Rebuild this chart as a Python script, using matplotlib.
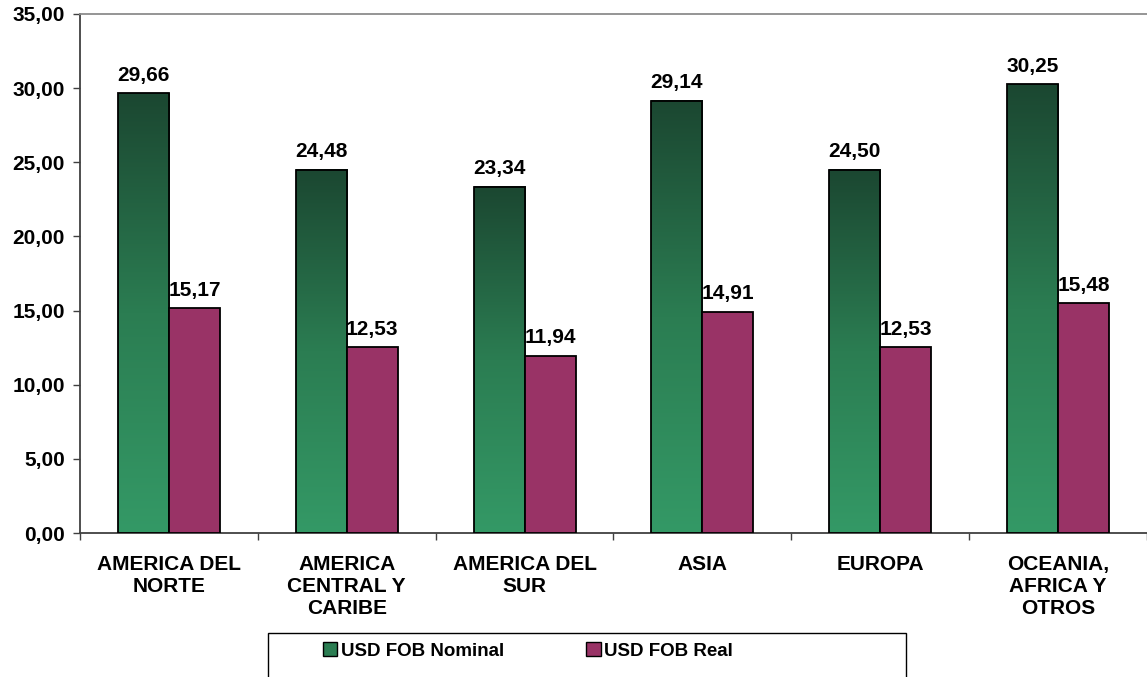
import numpy as np
import matplotlib.pyplot as plt
from matplotlib.colors import LinearSegmentedColormap
from matplotlib.patches import Patch, Rectangle

# Datos
regiones = ["AMERICA DEL\nNORTE", "AMERICA\nCENTRAL Y\nCARIBE", "AMERICA DEL\nSUR",
            "ASIA", "EUROPA", "OCEANIA,\nAFRICA Y\nOTROS"]
nominal = [29.66, 24.48, 23.34, 29.14, 24.50, 30.25]
real = [15.17, 12.53, 11.94, 14.91, 12.53, 15.48]
yticks = [0, 5, 10, 15, 20, 25, 30, 35]
series = ["USD FOB Nominal", "USD FOB Real"]

plt.rcParams['font.family'] = ['Liberation Sans', 'DejaVu Sans']
plt.rcParams['font.weight'] = 'bold'

def coma(v):
    return f"{v:.2f}".replace('.', ',')

verde = LinearSegmentedColormap.from_list("verde", ["#349966", "#2b7d52", "#1b4731"])
morado = "#993366"
fs = 15

fig = plt.figure(figsize=(11.47, 6.77), dpi=100)
ax = fig.add_axes([80/1147, 144/677, 1067/1147, 519/677])

x = np.arange(len(regiones))
w = 0.287
grad = np.linspace(0, 1, 256).reshape(-1, 1)

# barras nominales con degradado
for xi, h in zip(x, nominal):
    x0 = xi - w
    ax.imshow(grad, extent=[x0, xi, 0, h], origin='lower', aspect='auto',
              cmap=verde, zorder=2)
    ax.add_patch(Rectangle((x0, 0), w, h, fill=False, edgecolor='black',
                           linewidth=1.3, zorder=3))
    ax.annotate(coma(h), (xi - w/2, h), xytext=(0, 9), textcoords='offset points',
                ha='center', va='baseline', fontsize=fs, fontweight='bold')

ax.bar(x + w/2, real, width=w, color=morado, edgecolor='black', linewidth=1.3, zorder=3)
for xi, h in zip(x, real):
    ax.annotate(coma(h), (xi + w/2, h), xytext=(0, 9), textcoords='offset points',
                ha='center', va='baseline', fontsize=fs, fontweight='bold')

ax.set_xlim(-0.5, len(regiones) - 0.5)
ax.set_ylim(0, 35)
ax.set_yticks(yticks)
ax.set_yticklabels([coma(v) for v in yticks], fontsize=fs, fontweight='bold')
ax.tick_params(axis='y', direction='out', length=5, width=1, color='#404040', pad=6)

ax.set_xticks(x)
ax.set_xticklabels(regiones, fontsize=fs, fontweight='bold', linespacing=1.2)
ax.tick_params(axis='x', which='major', length=0, pad=16)
ax.set_xticks(np.arange(-0.5, len(regiones)), minor=True)
ax.tick_params(axis='x', which='minor', direction='out', length=5, width=1, color='#404040')

ax.spines['right'].set_visible(False)
ax.spines['left'].set_color('#404040')
ax.spines['bottom'].set_color('#404040')
ax.spines['left'].set_linewidth(1.3)
ax.spines['bottom'].set_linewidth(1.3)
ax.spines['top'].set_color('#8c8c8c')
ax.spines['top'].set_linewidth(1.3)

# Leyenda
handles = [Patch(facecolor="#2b7d52", edgecolor='black', label=series[0]),
           Patch(facecolor=morado, edgecolor='black', label=series[1])]
fig.add_artist(Rectangle((268/1147, -0.02), 638/1147, 44/677 + 0.02,
                         transform=fig.transFigure, fill=False,
                         edgecolor='black', linewidth=1))
fig.legend(handles=handles, loc='center left', bbox_to_anchor=(306/1147, 1 - 651/677),
           ncol=2, frameon=False, handlelength=0.75, handleheight=0.75,
           handletextpad=0.2, columnspacing=4.4, prop={'weight': 'bold', 'size': 13.5})

fig.savefig("out.png", dpi=100)
